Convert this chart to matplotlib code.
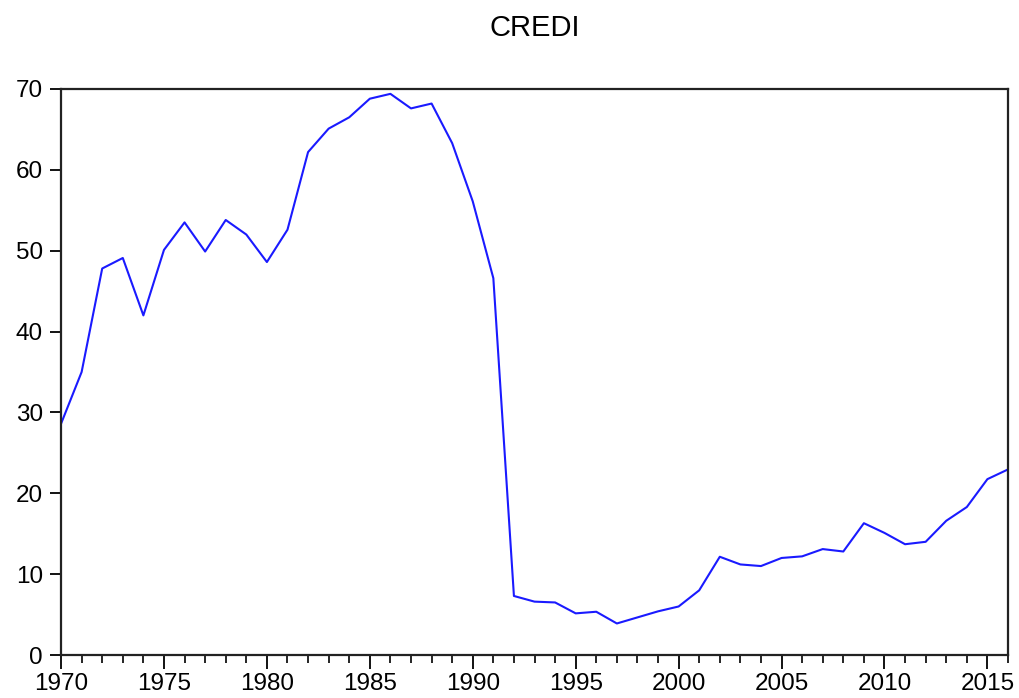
import numpy as np
import matplotlib
matplotlib.use("Agg")
import matplotlib.pyplot as plt
from matplotlib.ticker import MultipleLocator

plt.rcParams['font.family'] = ['Liberation Sans', 'DejaVu Sans']

# yearly values
years = np.arange(1970, 2017)
credi = [28.6, 35.0, 47.8, 49.1, 42.0, 50.1, 53.5, 49.9, 53.8, 52.0,
         48.6, 52.6, 62.2, 65.1, 66.5, 68.8, 69.4, 67.6, 68.2, 63.3,
         56.1, 46.6, 7.3, 6.6, 6.5, 5.15, 5.35, 3.9, 4.65, 5.4,
         6.0, 8.0, 12.15, 11.2, 11.0, 12.0, 12.2, 13.1, 12.8, 16.3,
         15.1, 13.7, 14.0, 16.6, 18.3, 21.75, 22.95]

fig = plt.figure(figsize=(10.19, 6.98), dpi=100)
ax = fig.add_axes([0.0599, 0.0616, 0.9293, 0.8109])

ax.plot(years, credi, color="#1a1aff", linewidth=1.5)

ax.set_xlim(1970, 2016)
ax.set_ylim(0, 70)
ax.xaxis.set_major_locator(MultipleLocator(5))
ax.xaxis.set_minor_locator(MultipleLocator(1))
ax.yaxis.set_major_locator(MultipleLocator(10))

ax.tick_params(axis="x", which="major", direction="out", length=10, width=1.3,
               labelsize=17.5, pad=3, top=False)
ax.tick_params(axis="x", which="minor", direction="out", length=6, width=1.2, top=False)
ax.tick_params(axis="y", which="major", direction="out", length=8, width=1.3,
               labelsize=17.5, pad=5, right=False)

for s in ax.spines.values():
    s.set_linewidth(1.6)
    s.set_color("#222222")

fig.text(534.5 / 1019, 1 - 28 / 698, "CREDI", ha="center", va="center", fontsize=21)

fig.savefig("out.png", dpi=100)
